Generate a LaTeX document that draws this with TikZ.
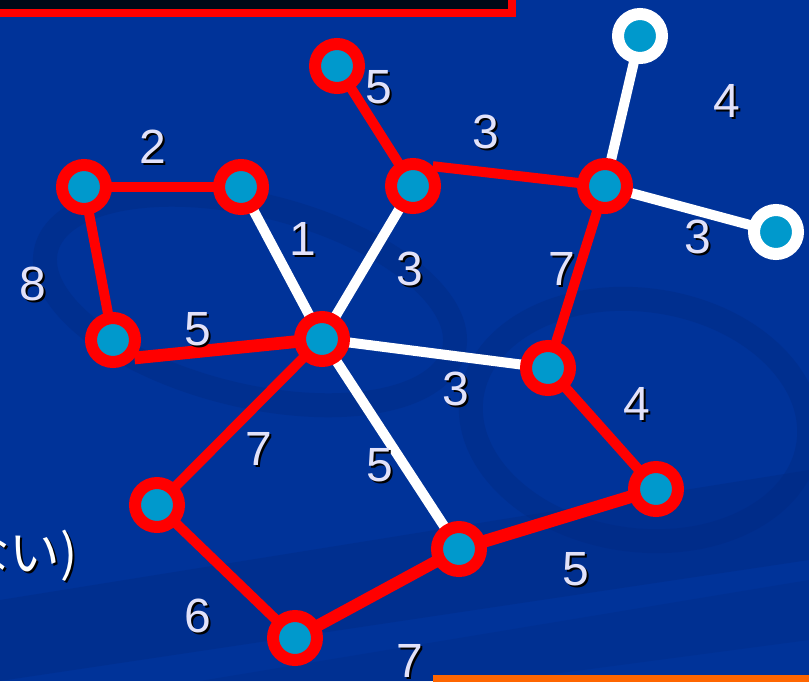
\documentclass[tikz,border=0pt]{standalone}
\usepackage{fontspec}
\setmainfont{Liberation Sans}
\newfontfamily\jpfont{Noto Sans CJK JP}
\usetikzlibrary{backgrounds}
\definecolor{slideblue}{HTML}{003399}
\definecolor{swirlblue}{HTML}{00287F}
\definecolor{dotcyan}{HTML}{0099CC}
\definecolor{labelgray}{HTML}{E2E2FA}
\definecolor{barorange}{HTML}{FF6600}
\definecolor{titleblack}{HTML}{000816}
\newcommand{\shadowed}[1]{\makebox[0pt][l]{\hspace{1.5pt}\raisebox{-1.5pt}{\color{black}#1}}#1}
\pgfdeclarelayer{slide}
\pgfdeclarelayer{links}
\pgfsetlayers{slide,links,main}

\begin{document}
\begin{tikzpicture}[x=0.75pt, y=-0.75pt,
  vtx/.style={circle, draw=red, fill=dotcyan, line width=9pt, minimum size=33pt, inner sep=0pt},
  leaf/.style={vtx, draw=white},
  tree/.style={draw=red, line width=7.5pt},
  rest/.style={draw=white, line width=7.5pt},
  weight/.style={text=labelgray, font=\fontsize{36}{40}\selectfont, inner sep=0pt}
]
\useasboundingbox (0,0) rectangle (809,681);
\clip (0,0) rectangle (809,681);

% vertices
\node[vtx] (a) at (84,187) {};
\node[vtx] (b) at (241,187) {};
\node[vtx] (c) at (337,66) {};
\node[vtx] (d) at (413,186) {};
\node[vtx] (e) at (605,186) {};
\node[leaf] (f) at (640,36) {};
\node[leaf] (g) at (776,232) {};
\node[vtx] (h) at (113,340) {};
\node[vtx] (hub) at (322,339) {};
\node[vtx] (j) at (548,368) {};
\node[vtx] (k) at (656,489) {};
\node[vtx] (l) at (157,505) {};
\node[vtx] (m) at (459,549) {};
\node[vtx] (n) at (295,638) {};

% slide background, swirls, title box and bottom bar
\begin{pgfonlayer}{slide}
\fill[slideblue] (0,0) rectangle (809,681);
\draw[swirlblue, opacity=0.35, line width=18pt, rotate around={-14:(250,300)}] (250,300) ellipse (210 and 95);
\draw[swirlblue, opacity=0.35, line width=18pt, rotate around={-8:(640,420)}] (640,420) ellipse (170 and 120);
\fill[swirlblue, opacity=0.35] (0,600) -- (809,470) -- (809,560) -- (0,681) -- cycle;
\fill[swirlblue, opacity=0.25] (200,681) -- (809,580) -- (809,640) -- (500,681) -- cycle;
\draw[fill=titleblack, draw=red, line width=6pt] (-10,-10) rectangle (512,13.5);
\fill[barorange] (433,675) rectangle (815,690);
\end{pgfonlayer}

% edges
\begin{pgfonlayer}{links}
\draw[tree] (a.center) -- (b.center);
\draw[tree] (a.center) -- (h.center);
\draw[tree, line width=9.5pt] (h.-40) -- (hub.center);
\draw[rest] (b.center) -- (hub.center);
\draw[tree] (c.center) -- (d.center);
\draw[tree] (d.45) -- (e.center);
\draw[rest] (d.center) -- (hub.center);
\draw[rest] (e.center) -- (f.center);
\draw[rest] (e.center) -- (g.center);
\draw[tree] (e.center) -- (j.center);
\draw[rest] (hub.center) -- (j.center);
\draw[tree] (j.center) -- (k.center);
\draw[tree] (hub.center) -- (l.center);
\draw[rest] (hub.center) -- (m.center);
\draw[tree, line width=9.5pt] (k.center) -- (m.center);
\draw[tree] (l.center) -- (n.center);
\draw[tree, line width=9pt] (m.center) -- (n.center);
\end{pgfonlayer}

% weights
\node[weight] (wab) at (153,148) {\shadowed{2}};
\node[weight] (wah) at (33,285) {\shadowed{8}};
\node[weight] (whh) at (198,330) {\shadowed{5}};
\node[weight] (wbh) at (303,240) {\shadowed{1}};
\node[weight] (wcd) at (379,88) {\shadowed{5}};
\node[weight] (wde) at (486,133) {\shadowed{3}};
\node[weight] (wdh) at (410,270) {\shadowed{3}};
\node[weight] (wef) at (727,102) {\shadowed{4}};
\node[weight] (weg) at (698,238) {\shadowed{3}};
\node[weight] (wej) at (562,270) {\shadowed{7}};
\node[weight] (whj) at (456,390) {\shadowed{3}};
\node[weight] (wjk) at (637,405) {\shadowed{4}};
\node[weight] (whl) at (259,450) {\shadowed{7}};
\node[weight] (whm) at (380,466) {\shadowed{5}};
\node[weight] (wkm) at (576,570) {\shadowed{5}};
\node[weight] (wln) at (198,617) {\shadowed{6}};
\node[weight] (wmn) at (410,662) {\shadowed{7}};

% cut-off caption
\node[text=white, font=\jpfont\fontsize{38}{42}\selectfont, inner sep=0pt, anchor=east] (note) at (78,557) {\shadowed{ない)}};
\end{tikzpicture}
\end{document}
